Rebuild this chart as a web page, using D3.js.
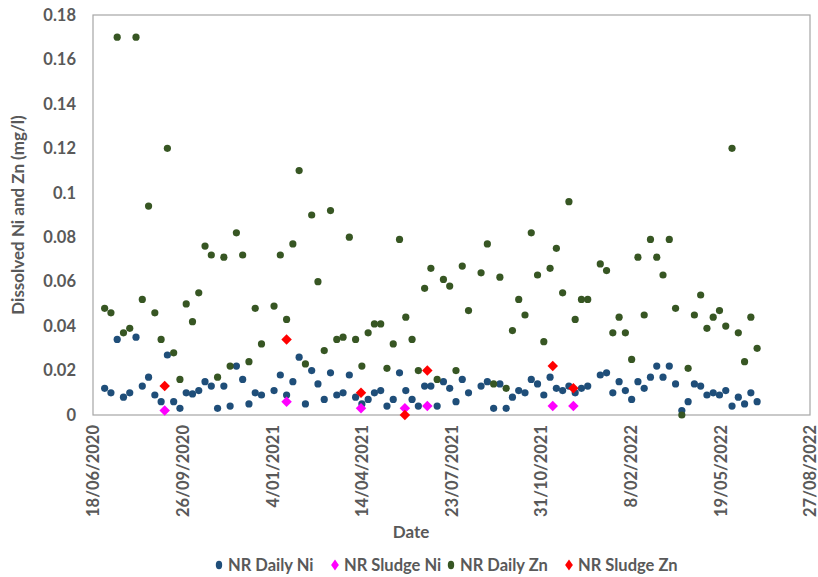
<!DOCTYPE html>
<html>
<head>
<meta charset="utf-8">
<script src="https://cdn.jsdelivr.net/npm/d3@7"></script>
<style>
  html, body { margin: 0; padding: 0; background: #fff; }
  svg text { font-family: Lato, "Liberation Sans", sans-serif; font-weight: bold; fill: #595959; }
</style>
</head>
<body>
<svg id="chart" width="818" height="577"></svg>
<script>
// Weekly daily-composite sampling dates
const dailyDates = [
  "2020-07-01","2020-07-08","2020-07-15","2020-07-22","2020-07-29","2020-08-05","2020-08-12","2020-08-19",
  "2020-08-26","2020-09-02","2020-09-09","2020-09-16","2020-09-23","2020-09-30","2020-10-07","2020-10-14",
  "2020-10-21","2020-10-28","2020-11-04","2020-11-11","2020-11-18","2020-11-25","2020-12-02","2020-12-09",
  "2020-12-16","2020-12-23",
  "2021-01-06","2021-01-13","2021-01-20","2021-01-27","2021-02-03","2021-02-10","2021-02-17","2021-02-24",
  "2021-03-03","2021-03-10","2021-03-17","2021-03-24","2021-03-31","2021-04-07","2021-04-14","2021-04-21",
  "2021-04-28","2021-05-05","2021-05-12","2021-05-19","2021-05-26","2021-06-02","2021-06-09","2021-06-16",
  "2021-06-23","2021-06-30","2021-07-07","2021-07-14","2021-07-21","2021-07-28","2021-08-04","2021-08-11",
  "2021-08-25","2021-09-01","2021-09-08","2021-09-15","2021-09-22","2021-09-29","2021-10-06","2021-10-13",
  "2021-10-20","2021-10-27","2021-11-03","2021-11-10","2021-11-17","2021-11-24","2021-12-01","2021-12-08",
  "2021-12-15","2021-12-22",
  "2022-01-05","2022-01-12","2022-01-19","2022-01-26","2022-02-02","2022-02-09","2022-02-16","2022-02-23",
  "2022-03-02","2022-03-09","2022-03-16","2022-03-23","2022-03-30","2022-04-06","2022-04-13","2022-04-20",
  "2022-04-27","2022-05-04","2022-05-11","2022-05-18","2022-05-25","2022-06-01","2022-06-08","2022-06-15",
  "2022-06-22","2022-06-29"
];

// Dissolved nickel, daily samples (mg/l)
const dailyNi = [
  0.012,0.010,0.034,0.008,0.010,0.035,0.013,0.017,
  0.009,0.006,0.027,0.006,0.003,0.010,0.0095,0.011,
  0.015,0.013,0.003,0.013,0.004,0.022,0.016,0.005,
  0.010,0.009,
  0.011,0.018,0.009,0.015,0.026,0.005,0.020,0.014,
  0.007,0.019,0.009,0.010,0.018,0.008,0.005,0.007,
  0.010,0.011,0.004,0.007,0.019,0.011,0.007,0.004,
  0.013,0.013,0.004,0.015,0.012,0.006,0.016,0.010,
  0.013,0.015,0.003,0.014,0.003,0.008,0.011,0.010,
  0.016,0.014,0.009,0.017,0.012,0.011,0.013,0.010,
  0.012,0.013,
  0.018,0.019,0.010,0.015,0.011,0.007,0.015,0.012,
  0.017,0.022,0.017,0.022,0.014,0.002,0.006,0.014,
  0.013,0.009,0.010,0.009,0.011,0.004,0.008,0.005,
  0.010,0.006
];

// Dissolved zinc, daily samples (mg/l)
const dailyZn = [
  0.048,0.046,0.170,0.037,0.039,0.170,0.052,0.094,
  0.046,0.034,0.120,0.028,0.016,0.050,0.042,0.055,
  0.076,0.072,0.017,0.071,0.022,0.082,0.072,0.024,
  0.048,0.032,
  0.049,0.072,0.043,0.077,0.110,0.023,0.090,0.060,
  0.029,0.092,0.034,0.035,0.080,0.034,0.022,0.037,
  0.041,0.041,0.021,0.032,0.079,0.044,0.034,0.020,
  0.057,0.066,0.016,0.061,0.058,0.020,0.067,0.047,
  0.064,0.077,0.014,0.062,0.012,0.038,0.052,0.045,
  0.082,0.063,0.033,0.066,0.075,0.055,0.096,0.043,
  0.052,0.052,
  0.068,0.065,0.037,0.044,0.037,0.025,0.071,0.045,
  0.079,0.071,0.063,0.079,0.048,0.000,0.021,0.045,
  0.054,0.039,0.044,0.047,0.040,0.120,0.037,0.024,
  0.044,0.030
];

// Sludge samples
const sludgeDates = ["2020-09-06","2021-01-20","2021-04-13","2021-06-01","2021-06-26","2021-11-13","2021-12-06"];
const sludgeNi = [0.002,0.006,0.003,0.003,0.004,0.004,0.004];
const sludgeZn = [0.013,0.034,0.010,0.000,0.020,0.022,0.012];

// Axis ticks
const xDomain = ["2020-06-18","2022-08-27"];
const xTickDates = ["2020-06-18","2020-09-26","2021-01-04","2021-04-14","2021-07-23","2021-10-31","2022-02-08","2022-05-19","2022-08-27"];
const yTicks = [0,0.02,0.04,0.06,0.08,0.1,0.12,0.14,0.16,0.18];

const seriesNames = ["NR Daily Ni","NR Sludge Ni","NR Daily Zn","NR Sludge Zn"];
const seriesColors = ["#1F4E79","#FF00FF","#375623","#FF0000"];
const seriesShapes = ["circle","diamond","circle","diamond"];

const parse = d3.utcParse("%Y-%m-%d");
const svg = d3.select("#chart");
const m = {left: 93, right: 810, top: 15, bottom: 415};

const x = d3.scaleUtc().domain(xDomain.map(parse)).range([m.left, m.right]);
const y = d3.scaleLinear().domain([0, 0.18]).range([m.bottom, m.top]);

// Plot frame
svg.append("rect")
  .attr("x", m.left).attr("y", m.top)
  .attr("width", m.right - m.left).attr("height", m.bottom - m.top)
  .attr("fill", "none").attr("stroke", "#A6A6A6").attr("stroke-width", 1.2);

// Y axis
const yAxis = svg.append("g")
  .attr("transform", `translate(${m.left},0)`)
  .call(d3.axisLeft(y).tickValues(yTicks).tickSize(0).tickPadding(17)
    .tickFormat(d => String(+d.toFixed(2))));
yAxis.select(".domain").remove();
yAxis.selectAll("text").style("font-size", "16.5px").style("font-family", null).attr("fill", null);

// X axis
const xAxis = svg.append("g")
  .attr("transform", `translate(0,${m.bottom})`)
  .call(d3.axisBottom(x).tickValues(xTickDates.map(parse)).tickSize(0)
    .tickFormat(d3.utcFormat("%-d/%m/%Y")));
xAxis.select(".domain").remove();
xAxis.selectAll("text")
  .style("font-size", "16.5px").style("font-family", null).attr("fill", null)
  .attr("text-anchor", "end")
  .attr("transform", "rotate(-90)")
  .attr("x", -10).attr("y", 0).attr("dy", "0.35em");

// Axis titles
svg.append("text")
  .attr("transform", `translate(18,${(m.top + m.bottom) / 2}) rotate(-90)`)
  .attr("text-anchor", "middle").attr("dy", "0.35em")
  .style("font-size", "17px")
  .text("Dissolved Ni and Zn (mg/l)");
svg.append("text")
  .attr("x", 411).attr("y", 538).attr("text-anchor", "middle")
  .style("font-size", "17px")
  .text("Date");

const diamond = d3.symbol().type(d3.symbolDiamond2).size(70);

function drawCircles(dates, values, color) {
  svg.append("g").selectAll("circle")
    .data(d3.zip(dates, values))
    .join("circle")
    .attr("cx", d => x(parse(d[0])))
    .attr("cy", d => y(d[1]))
    .attr("r", 3.6)
    .attr("fill", color);
}
function drawDiamonds(dates, values, color) {
  svg.append("g").selectAll("path")
    .data(d3.zip(dates, values))
    .join("path")
    .attr("d", diamond)
    .attr("transform", d => `translate(${x(parse(d[0]))},${y(d[1])})`)
    .attr("fill", color);
}

drawCircles(dailyDates, dailyNi, seriesColors[0]);
drawDiamonds(sludgeDates, sludgeNi, seriesColors[1]);
drawCircles(dailyDates, dailyZn, seriesColors[2]);
drawDiamonds(sludgeDates, sludgeZn, seriesColors[3]);

// Legend
const legend = svg.append("g").attr("transform", "translate(0,565)");
const legendX = [219, 335, 451, 569];
seriesNames.forEach((name, i) => {
  const g = legend.append("g").attr("transform", `translate(${legendX[i]},0)`);
  if (seriesShapes[i] === "circle") {
    g.append("ellipse").attr("rx", 3.2).attr("ry", 4.2).attr("fill", seriesColors[i]);
  } else {
    g.append("path").attr("d", d3.symbol().type(d3.symbolDiamond2).size(60))
      .attr("transform", "scale(0.8,1.15)").attr("fill", seriesColors[i]);
  }
  g.append("text").attr("x", 9).attr("dy", "0.35em")
    .style("font-size", "16.5px").text(name);
});
</script>
</body>
</html>
